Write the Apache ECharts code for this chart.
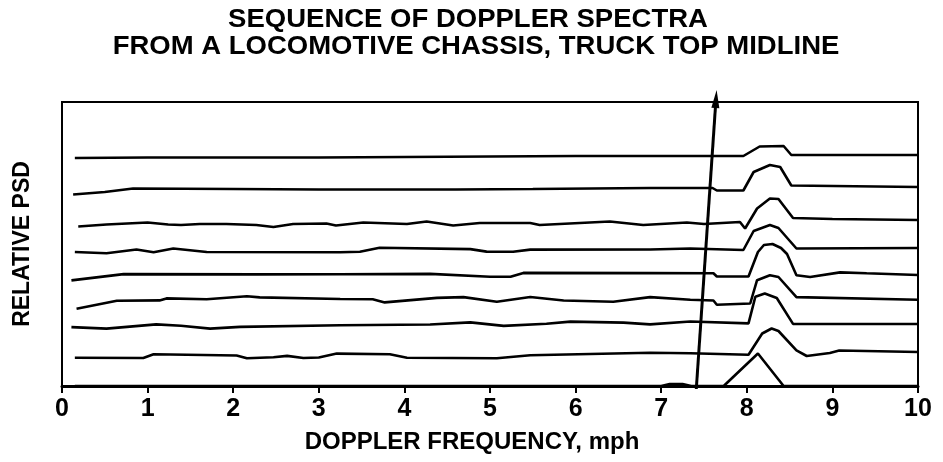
<!DOCTYPE html>
<html>
<head>
<meta charset="utf-8">
<script src="https://cdn.jsdelivr.net/npm/echarts@6/dist/echarts.min.js"></script>
<style>
  html, body { margin: 0; padding: 0; background: #fff; }
  #chart { width: 943px; height: 462px; }
</style>
</head>
<body>
<div id="chart"></div>
<script>
// ---- Data ----
// Frequency axis ticks (mph)
const freqTicks = [0, 1, 2, 3, 4, 5, 6, 7, 8, 9, 10];

// Stacked spectra, top to bottom: [frequency (mph), relative PSD incl. stacking offset]
const spec1 = [[0.15,228],[1,228.5],[2,228.5],[3,228.5],[4,229],[5,229.5],[6,230],[7,230],[7.96,230],[8.15,239.5],[8.43,240],[8.52,231],[10,231]];
const spec2 = [[0.13,191.5],[0.5,194],[0.83,197.5],[2,197],[3,196.5],[4.6,196.5],[5.5,197],[6.87,198],[7.6,198],[7.65,195.5],[7.96,195.5],[8.08,214],[8.27,221],[8.39,219],[8.52,200.5],[10,199]];
const spec3 = [[0.19,159.5],[0.52,161.5],[1.0,163.5],[1.24,161.5],[1.39,161],[1.61,162],[1.92,162],[2.27,161],[2.47,159],[2.7,162],[3.09,162.5],[3.2,160.5],[3.52,163.5],[4.03,162],[4.26,164.5],[4.57,160.5],[4.88,163],[5.47,163],[5.58,161],[6.4,164.5],[6.79,161],[7.3,163.5],[7.5,162],[7.92,164],[7.98,157.5],[8.12,177.5],[8.27,187.5],[8.37,187],[8.54,168],[9,167],[10,166]];
const spec4 = [[0.15,134],[0.52,132.7],[0.87,136.5],[1.07,133.7],[1.3,137.5],[1.69,134],[3.25,133.7],[3.48,134.2],[3.71,138.2],[4.77,136.9],[4.96,134.4],[5.27,134.2],[5.47,136.4],[6.87,136.5],[7.34,137.5],[7.96,136],[8.08,155],[8.27,161],[8.37,158],[8.58,137.5],[10,138]];
const spec5 = [[0.11,105.6],[0.72,111.9],[2.27,111.6],[3.25,111.8],[4.3,112.1],[5.0,109.3],[5.24,109.2],[5.39,113.1],[6.87,112.9],[7.61,112.8],[7.65,109.5],[8.02,109.5],[8.13,134],[8.2,141],[8.3,142],[8.4,138],[8.47,132],[8.58,110.8],[8.74,109],[9.09,113.6],[9.4,112.7],[10,111]];
const spec6 = [[0.17,77.2],[0.64,85.3],[1.14,85.6],[1.22,87.6],[1.69,86.7],[2.16,89.7],[2.31,88.6],[3.25,87],[3.63,86.8],[3.77,83.6],[4.38,88.1],[4.69,88.9],[5.08,84.3],[5.47,89],[5.86,85.5],[6.44,84.2],[6.87,88.9],[7.34,86.2],[7.61,85.5],[7.65,81.2],[8.04,82.5],[8.12,105.8],[8.27,110.8],[8.37,109],[8.58,88.9],[10,86.3]];
const spec7 = [[0.11,58.9],[0.52,57.4],[1.1,61.6],[1.39,60.2],[1.73,57.4],[2.08,59.1],[3.25,60.7],[4.3,61.5],[4.77,63.6],[5.16,60.1],[5.66,62.3],[5.94,64.4],[6.56,63.4],[6.87,61.6],[7.34,64.5],[8.02,62.6],[8.1,89.3],[8.21,92.5],[8.35,88],[8.54,62.1],[10,62]];
const spec8 = [[0.15,28.2],[0.95,28],[1.07,31.7],[2.04,30.5],[2.16,27.7],[2.47,28.8],[2.63,30.1],[2.82,28],[3.0,28.5],[3.21,32.4],[3.83,31.7],[4.03,28.3],[5.08,27.7],[5.47,30.7],[6.87,33.2],[7.34,32.8],[8.02,31.2],[8.18,52.5],[8.29,57.5],[8.37,55],[8.58,35.6],[8.7,30],[8.97,33],[9.08,35.5],[10,34]];
const spec9 = [[0.15,0],[7.0,0],[7.1,2],[7.25,2],[7.35,0],[7.73,0],[8.13,32.5],[8.43,0],[10,0]];
const spectra = [spec1, spec2, spec3, spec4, spec5, spec6, spec7, spec8, spec9];

// Annotation arrow (frequency, level)
const arrowFreq = [7.41, 7.64];
const arrowLevel = [-3, 287];

// Texts
const titleLines = ['SEQUENCE OF DOPPLER SPECTRA', 'FROM A LOCOMOTIVE CHASSIS, TRUCK TOP MIDLINE'];
const xTitle = 'DOPPLER FREQUENCY, mph';
const yTitle = 'RELATIVE PSD';

// ---- Chart ----
const FONT = "'Liberation Sans', Arial, Helvetica, sans-serif";
const chart = echarts.init(document.getElementById('chart'), null, { renderer: 'canvas' });

const series = spectra.map((s, i) => ({
  name: 'spectrum ' + (i + 1),
  type: 'line',
  data: s,
  showSymbol: false,
  symbol: 'none',
  smooth: false,
  lineStyle: { color: '#000', width: 2.6 },
  silent: true,
  animation: false,
  z: 3
}));

series.push({
  name: 'arrow',
  type: 'line',
  clip: false,
  data: [
    { value: [arrowFreq[0], arrowLevel[0]], symbol: 'none' },
    { value: [arrowFreq[1], arrowLevel[1]], symbol: 'triangle', symbolSize: [8, 18], symbolRotate: -4 }
  ],
  showSymbol: true,
  symbol: 'none',
  itemStyle: { color: '#000' },
  lineStyle: { color: '#000', width: 3 },
  silent: true,
  animation: false,
  z: 5
});

const textStyleBase = { fill: '#000', fontFamily: FONT, fontWeight: 'bold', align: 'center', verticalAlign: 'middle' };

chart.setOption({
  backgroundColor: '#fff',
  animation: false,
  graphic: [
    { type: 'text', x: 468, y: 20, scaleX: 1.1, silent: true,
      style: Object.assign({}, textStyleBase, { text: titleLines[0], fontSize: 25 }) },
    { type: 'text', x: 476, y: 47, scaleX: 1.1, silent: true,
      style: Object.assign({}, textStyleBase, { text: titleLines[1], fontSize: 25 }) },
    { type: 'text', x: 472, y: 442, silent: true,
      style: Object.assign({}, textStyleBase, { text: xTitle, fontSize: 24 }) }
  ],
  grid: {
    left: 62, right: 25, top: 102, bottom: 76,
    show: true, borderColor: '#000', borderWidth: 2, backgroundColor: 'transparent'
  },
  xAxis: {
    type: 'value',
    min: freqTicks[0],
    max: freqTicks[freqTicks.length - 1],
    interval: 1,
    axisLine: { show: true, lineStyle: { color: '#000', width: 3 } },
    axisTick: { show: true, inside: false, length: 7, lineStyle: { color: '#000', width: 2 } },
    axisLabel: { fontFamily: FONT, fontWeight: 'bold', fontSize: 25, color: '#000', margin: 11 },
    splitLine: { show: false }
  },
  yAxis: {
    type: 'value',
    min: 0,
    max: 284,
    name: yTitle,
    nameLocation: 'middle',
    nameGap: 28,
    nameRotate: 90,
    nameTextStyle: { fontFamily: FONT, fontWeight: 'bold', fontSize: 23, color: '#000' },
    axisLine: { show: false },
    axisTick: { show: false },
    axisLabel: { show: false },
    splitLine: { show: false }
  },
  series: series
});
</script>
</body>
</html>
